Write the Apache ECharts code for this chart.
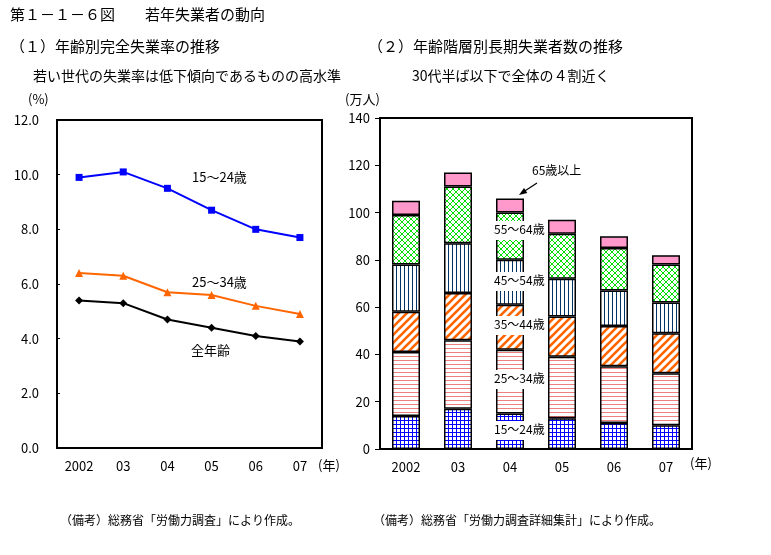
<!DOCTYPE html>
<html><head><meta charset="utf-8">
<script src="https://cdn.jsdelivr.net/npm/echarts@6/dist/echarts.min.js"></script>
<style>html,body{margin:0;padding:0;background:#fff}#c{width:771px;height:555px}</style>
</head><body><div id="c"></div>
<script>
const years = ['2002','03','04','05','06','07'];
const rate1524 = [9.9,10.1,9.5,8.7,8.0,7.7];
const rate2534 = [6.4,6.3,5.7,5.6,5.2,4.9];
const rateAll = [5.4,5.3,4.7,4.4,4.1,3.9];
const rateNames = ['15～24歳','25～34歳','全年齢'];
const rateTicks = [0,2,4,6,8,10,12];
const ageGroups = ['15～24歳','25～34歳','35～44歳','45～54歳','55～64歳','65歳以上'];
const lt1524 = [14,17,15,13,11,10];
const lt2534 = [27,29,27,26,24,22];
const lt3544 = [17,20,19,17,17,17];
const lt4554 = [20,21,19,16,15,13];
const lt5564 = [21,24,20,19,18,16];
const lt65 = [6,6,6,6,5,4];
const countTicks = [0,20,40,60,80,100,120,140];

const FONT = '"Noto Sans CJK JP", sans-serif';
function pat(w,h,draw){
  const c=document.createElement('canvas'); c.width=w; c.height=h;
  const g=c.getContext('2d'); g.fillStyle='#fff'; g.fillRect(0,0,w,h); draw(g);
  return {image:c, repeat:'repeat'};
}
const pGrid = pat(4,4,g=>{g.fillStyle='#0000ff'; g.fillRect(0,0,4,1); g.fillRect(0,0,1,4);});
const pHoriz = pat(4,4,g=>{g.fillStyle='#f08080'; g.fillRect(0,0,4,1);});
const pDiag = pat(8,8,g=>{g.strokeStyle='#ff6600'; g.lineWidth=2.6;
  [[-8,8,8,-8],[0,8,8,0],[0,16,16,0]].forEach(a=>{g.beginPath(); g.moveTo(a[0],a[1]); g.lineTo(a[2],a[3]); g.stroke();});});
const pVert = pat(4,4,g=>{g.fillStyle='#003366'; g.fillRect(0,0,1,4);});
const pCross = pat(6,6,g=>{g.strokeStyle='#00dd00'; g.lineWidth=1;
  [[0,0,6,6],[-6,0,6,12],[0,-6,12,6],[6,0,0,6],[12,0,0,12],[6,-6,-6,6]].forEach(a=>{g.beginPath(); g.moveTo(a[0],a[1]); g.lineTo(a[2],a[3]); g.stroke();});});
const pPink = '#ff99cc';
const fills = [pGrid,pHoriz,pDiag,pVert,pCross,pPink];
const ltData = [lt1524,lt2534,lt3544,lt4554,lt5564,lt65];

const chart = echarts.init(document.getElementById('c'), null, {renderer:'canvas'});
const axisTxt = {color:'#000', fontSize:13, fontFamily:FONT};
const option = {
  animation:false,
  backgroundColor:'#fff',
  textStyle:{fontFamily:FONT},
  grid:[
    {left:57, top:120, width:265, height:328, show:true, borderColor:'#000', borderWidth:2, backgroundColor:'transparent'},
    {left:380, top:118, width:312, height:331, show:true, borderColor:'#000', borderWidth:2, backgroundColor:'transparent'}
  ],
  xAxis:[
    {gridIndex:0, type:'category', data:years, boundaryGap:true,
     axisLine:{lineStyle:{color:'#000', width:2}}, axisTick:{inside:true, length:4, lineStyle:{color:'#000'}},
     axisLabel:Object.assign({margin:12}, axisTxt)},
    {gridIndex:1, type:'category', data:years, boundaryGap:true,
     axisLine:{lineStyle:{color:'#000', width:2}}, axisTick:{inside:false, length:3, lineStyle:{color:'#000'}},
     axisLabel:Object.assign({margin:12}, axisTxt)}
  ],
  yAxis:[
    {gridIndex:0, type:'value', min:rateTicks[0], max:rateTicks[rateTicks.length-1], interval:2,
     axisLine:{show:true, lineStyle:{color:'#000', width:2}}, axisTick:{show:true, inside:true, length:3, lineStyle:{color:'#000'}},
     splitLine:{show:false}, axisLabel:Object.assign({margin:18, formatter:v=>v.toFixed(1)}, axisTxt)},
    {gridIndex:1, type:'value', min:countTicks[0], max:countTicks[countTicks.length-1], interval:20,
     axisLine:{show:true, lineStyle:{color:'#000', width:2}}, axisTick:{show:true, inside:false, length:5, lineStyle:{color:'#000'}},
     splitLine:{show:false}, axisLabel:Object.assign({margin:10}, axisTxt)}
  ],
  series:[
    {name:rateNames[0], type:'line', xAxisIndex:0, yAxisIndex:0, data:rate1524, symbol:'rect', symbolSize:7,
     lineStyle:{color:'#0000ff', width:2}, itemStyle:{color:'#0000ff'}},
    {name:rateNames[1], type:'line', xAxisIndex:0, yAxisIndex:0, data:rate2534, symbol:'triangle', symbolSize:8,
     lineStyle:{color:'#ff6600', width:2}, itemStyle:{color:'#ff6600'}},
    {name:rateNames[2], type:'line', xAxisIndex:0, yAxisIndex:0, data:rateAll, symbol:'diamond', symbolSize:8,
     lineStyle:{color:'#000', width:2}, itemStyle:{color:'#000'}}
  ].concat(ageGroups.map((n,i)=>({
    name:n, type:'bar', stack:'lt', xAxisIndex:1, yAxisIndex:1, barWidth:28, data:ltData[i],
    itemStyle:{color:fills[i], borderColor:'#000', borderWidth:1.5}
  }))),
  graphic:[
    {type:'text', left:10, top:7, style:{text:'第１－１－６図　　若年失業者の動向', fontSize:15, fontFamily:FONT, fill:'#000'}},
    {type:'text', left:10, top:39, style:{text:'（１）年齢別完全失業率の推移', fontSize:15, fontFamily:FONT, fill:'#000'}},
    {type:'text', left:368, top:39, style:{text:'（２）年齢階層別長期失業者数の推移', fontSize:15, fontFamily:FONT, fill:'#000'}},
    {type:'text', left:33, top:69, style:{text:'若い世代の失業率は低下傾向であるものの高水準', fontSize:14, fontFamily:FONT, fill:'#000'}},
    {type:'text', left:412, top:69, style:{text:'30代半ば以下で全体の４割近く', fontSize:14, fontFamily:FONT, fill:'#000'}},
    {type:'text', left:28, top:93, style:{text:'(%)', fontSize:13, fontFamily:FONT, fill:'#000'}},
    {type:'text', left:345, top:93, style:{text:'(万人)', fontSize:13, fontFamily:FONT, fill:'#000'}},
    {type:'text', left:318, top:459, style:{text:'(年)', fontSize:13, fontFamily:FONT, fill:'#000'}},
    {type:'text', left:690, top:457, style:{text:'(年)', fontSize:13, fontFamily:FONT, fill:'#000'}},
    {type:'text', left:192, top:171, z:100, style:{text:rateNames[0], fontSize:13, fontFamily:FONT, fill:'#000'}},
    {type:'text', left:192, top:276, z:100, style:{text:rateNames[1], fontSize:13, fontFamily:FONT, fill:'#000'}},
    {type:'text', left:191, top:344, z:100, style:{text:rateNames[2], fontSize:13, fontFamily:FONT, fill:'#000'}},
    {type:'rect', z:100, shape:{x:488,y:221,width:60,height:19}, style:{fill:'#fff'}},
    {type:'rect', z:100, shape:{x:488,y:272,width:60,height:19}, style:{fill:'#fff'}},
    {type:'rect', z:100, shape:{x:488,y:316,width:60,height:19}, style:{fill:'#fff'}},
    {type:'rect', z:100, shape:{x:488,y:370,width:60,height:19}, style:{fill:'#fff'}},
    {type:'rect', z:100, shape:{x:488,y:421,width:60,height:19}, style:{fill:'#fff'}},
    {type:'text', z:101, left:494, top:223, style:{text:ageGroups[4], fontSize:12, fontFamily:FONT, fill:'#000'}},
    {type:'text', z:101, left:494, top:274, style:{text:ageGroups[3], fontSize:12, fontFamily:FONT, fill:'#000'}},
    {type:'text', z:101, left:494, top:318, style:{text:ageGroups[2], fontSize:12, fontFamily:FONT, fill:'#000'}},
    {type:'text', z:101, left:494, top:372, style:{text:ageGroups[1], fontSize:12, fontFamily:FONT, fill:'#000'}},
    {type:'text', z:101, left:494, top:423, style:{text:ageGroups[0], fontSize:12, fontFamily:FONT, fill:'#000'}},
    {type:'text', z:101, left:532, top:164, style:{text:ageGroups[5], fontSize:12, fontFamily:FONT, fill:'#000'}},
    {type:'line', z:101, shape:{x1:537,y1:183,x2:524,y2:191.5}, style:{stroke:'#000', lineWidth:1.2}},
    {type:'polygon', z:101, shape:{points:[[519,195],[527.3,193.1],[524,188.1]]}, style:{fill:'#000'}},
    {type:'text', left:60, top:514, style:{text:'（備考）総務省「労働力調査」により作成。', fontSize:12, fontFamily:FONT, fill:'#000'}},
    {type:'text', left:373, top:514, style:{text:'（備考）総務省「労働力調査詳細集計」により作成。', fontSize:12, fontFamily:FONT, fill:'#000'}}
  ]
};
chart.setOption(option);
</script></body></html>
